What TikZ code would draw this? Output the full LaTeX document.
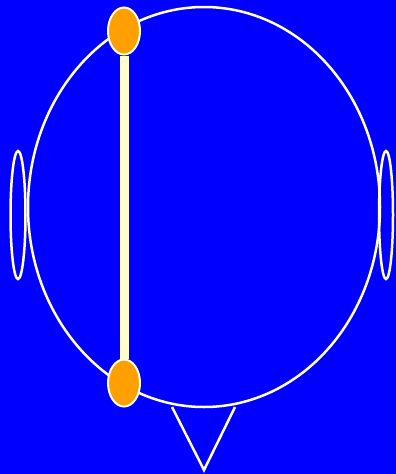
\documentclass[tikz,border=0pt]{standalone}
\usepackage{tikz}
\usetikzlibrary{shapes.geometric}

\definecolor{scalp}{RGB}{0,0,255}
\definecolor{chalk}{RGB}{255,255,230}
\definecolor{probe}{RGB}{255,160,0}
\definecolor{wire}{RGB}{255,255,205}

\begin{document}
\begin{tikzpicture}[x=1pt, y=-1pt,
        outline/.style = {draw=chalk, line width=2.5pt},
        oval/.style = {outline, ellipse, inner sep=0pt},
        electrode/.style = {ellipse, draw=chalk, line width=2pt, fill=probe, inner sep=0pt, minimum width=32pt, minimum height=47pt}]
        \fill[scalp] (0,0) rectangle (396,474);
        \node[oval, minimum width=352pt, minimum height=400pt] (head) at (204,207) {};
        \node[oval, minimum width=15pt, minimum height=128pt] (earL) at (18,215) {};
        \node[oval, minimum width=14pt, minimum height=128pt] (earR) at (386,215) {};
        \coordinate (noseL) at (172,407);
        \coordinate (noseT) at (204,470);
        \coordinate (noseR) at (235,407);
        \draw[outline] (noseL) -- (noseT) -- (noseR);
        \node[electrode] (fp) at (124,31) {};
        \node[electrode] (oz) at (124,383) {};
        \draw[wire, line width=9pt] (fp) -- (oz);
      \end{tikzpicture}
\end{document}
